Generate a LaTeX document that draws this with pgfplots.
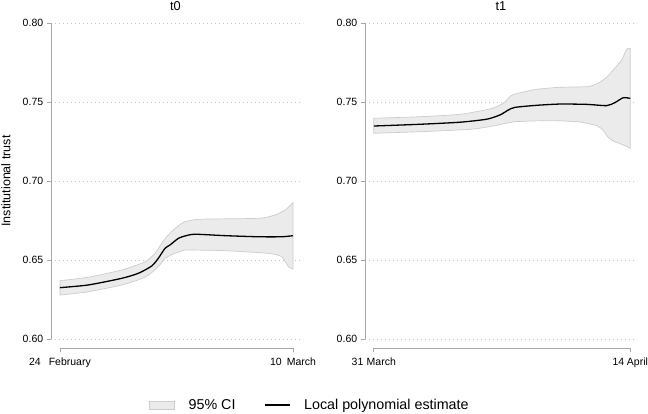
\documentclass[border=0pt]{standalone}
\usepackage{fontspec}
\setmainfont{Liberation Sans}
\usepackage{pgfplots}
\usepackage{pgfplotstable}
\pgfplotsset{compat=1.18}
\usepgfplotslibrary{fillbetween}

\definecolor{cifill}{HTML}{EBEBEB}
\definecolor{ciedge}{HTML}{CCCCCC}
\definecolor{axgray}{HTML}{A8A8A8}
\definecolor{gridgray}{HTML}{C4C4C4}

% t0 panel: days since 24 February
\pgfplotstableread{
x     y
0     0.6325
1.70  0.6342
3.71  0.6384
4.71  0.6416
5.51  0.6462
5.91  0.6511
6.31  0.6574
6.61  0.6595
7.11  0.6637
7.51  0.6652
8.11  0.6663
9.92  0.6654
11.92 0.6647
13.32 0.6647
14    0.6654
}\tzeroest
\pgfplotstableread{
x     y
0     0.6369
1.70  0.6391
3.71  0.6437
5.11  0.6489
5.71  0.6542
6.11  0.6606
6.41  0.6647
6.81  0.6690
7.31  0.6732
7.51  0.6742
8.41  0.6758
11.92 0.6764
12.92 0.6785
13.52 0.6816
14    0.6863
}\tzeroup
\pgfplotstableread{
x     y
0     0.6278
1.70  0.6299
3.71  0.6342
5.11  0.6391
5.91  0.6458
6.31  0.6511
6.91  0.6542
7.51  0.6563
7.91  0.6563
9.92  0.6559
12.52 0.6542
13.32 0.6521
13.72 0.6458
14    0.6443
}\tzerolo

% t1 panel: days since 31 March
\pgfplotstableread{
x     y
0     0.7348
2.52  0.7359
4.70  0.7372
6.16  0.7391
6.89  0.7418
7.34  0.7449
7.71  0.7466
8.89  0.7479
10.16 0.7487
11.62 0.7485
12.71 0.7477
13.16 0.7496
13.62 0.7527
14    0.7523
}\toneest
\pgfplotstableread{
x     y
0     0.7397
2.52  0.7407
4.70  0.7422
6.34  0.7456
7.07  0.7492
7.43  0.7534
7.71  0.7551
8.89  0.7580
10.16 0.7593
11.62 0.7597
12.17 0.7614
12.71 0.7656
13.07 0.7703
13.53 0.7766
13.81 0.7834
14    0.7840
}\toneup
\pgfplotstableread{
x     y
0     0.7302
2.52  0.7312
5.25  0.7327
6.52  0.7348
7.71  0.7375
9.80  0.7382
11.26 0.7373
12.17 0.7350
12.53 0.7320
12.80 0.7275
13.10 0.7252
13.62 0.7228
14    0.7207
}\tonelo

\tikzset{xaxisline/.style={axgray, line width=0.9bp}}

\pgfplotsset{
  /pgf/number format/assume math mode=true,
  panel/.style={
    scale only axis,
    height=316bp,
    anchor=south west,
    ymin=0.6, ymax=0.8,
    ytick={0.6,0.65,0.7,0.75,0.8},
    yticklabel style={font=\fontsize{10.5bp}{12bp}\selectfont,
      /pgf/number format/.cd, fixed, fixed zerofill, precision=2},
    axis lines*=left,
    axis line style={-, draw=axgray, line width=0.9bp},
    x axis line style={draw=none},
    xtick style={draw=none},
    ytick style={draw=axgray, line width=0.9bp},
    tick align=outside,
    major tick length=4.3bp,
    ymajorgrids,
    grid style={gridgray, line width=0.8bp, dash pattern=on 0.8bp off 3.2bp},
    xticklabel style={font=\fontsize{10.5bp}{12bp}\selectfont, anchor=base, yshift=-22bp},
    title style={font=\fontsize{12.8bp}{14bp}\selectfont, at={(0.5,1)}, anchor=center, yshift=10.5bp},
    clip=false,
  },
  ci/.style={draw=ciedge, fill=cifill, line width=0.7bp, forget plot},
  est/.style={black, line width=1.3bp, smooth, tension=0.4, forget plot},
}

\begin{document}
\begin{tikzpicture}

\begin{axis}[panel,
  at={(51bp,75bp)}, width=249bp,
  xmin=-0.54, xmax=14.42,
  xtick={0,14},
  xticklabels={{24\hspace{8bp}February},{10\hspace{5bp}March}},
  title={t0},
  ylabel={Institutional trust},
  ylabel style={font=\fontsize{12.5bp}{14bp}\selectfont,
    at={(axis description cs:0,0.5)}, anchor=center, yshift=45bp},
  legend style={draw=none, fill=none, at={(1.040,-0.209)}, anchor=center,
    legend columns=2, font=\fontsize{14.3bp}{16bp}\selectfont,
    /tikz/every even column/.append style={column sep=27bp}},
]
\addplot[name path=up0, draw=none, smooth, tension=0.4, forget plot] table {\tzeroup};
\addplot[name path=lo0, draw=none, smooth, tension=0.4, forget plot] table {\tzerolo};
\addplot[ci] fill between[of=up0 and lo0];
\addplot[est] table {\tzeroest};
\draw[xaxisline] ([yshift=-13.3bp]axis cs:0,0.6) -- ([yshift=-9bp]axis cs:0,0.6)
  -- ([yshift=-9bp]axis cs:14,0.6) -- ([yshift=-13.3bp]axis cs:14,0.6);
\addlegendimage{legend image code/.code={%
  \draw[draw=ciedge, fill=cifill, line width=0.7bp] (0bp,-4bp) rectangle (25bp,4bp);
  \path[draw=none, fill=none] (0bp,0bp) rectangle (37bp,0.1bp);}}
\addlegendentry{95\% CI}
\addlegendimage{legend image code/.code={%
  \draw[black, line width=1.3bp] (0bp,0bp) -- (25bp,0bp);
  \path[draw=none, fill=none] (0bp,0bp) rectangle (37bp,0.1bp);}}
\addlegendentry{Local polynomial estimate}
\end{axis}

\begin{axis}[panel,
  at={(365bp,75bp)}, width=272bp,
  xmin=-0.48, xmax=14.37,
  xtick={0,14},
  xticklabels={{31\hspace{3.3bp}March},{14\hspace{2.7bp}April}},
  title={t1},
]
\addplot[name path=up1, draw=none, smooth, tension=0.4, forget plot] table {\toneup};
\addplot[name path=lo1, draw=none, smooth, tension=0.4, forget plot] table {\tonelo};
\addplot[ci] fill between[of=up1 and lo1];
\addplot[est] table {\toneest};
\draw[xaxisline] ([yshift=-13.3bp]axis cs:0,0.6) -- ([yshift=-9bp]axis cs:0,0.6)
  -- ([yshift=-9bp]axis cs:14,0.6) -- ([yshift=-13.3bp]axis cs:14,0.6);
\end{axis}

\pgfresetboundingbox
\path (0,0) rectangle (648bp,414bp);
\end{tikzpicture}
\end{document}
